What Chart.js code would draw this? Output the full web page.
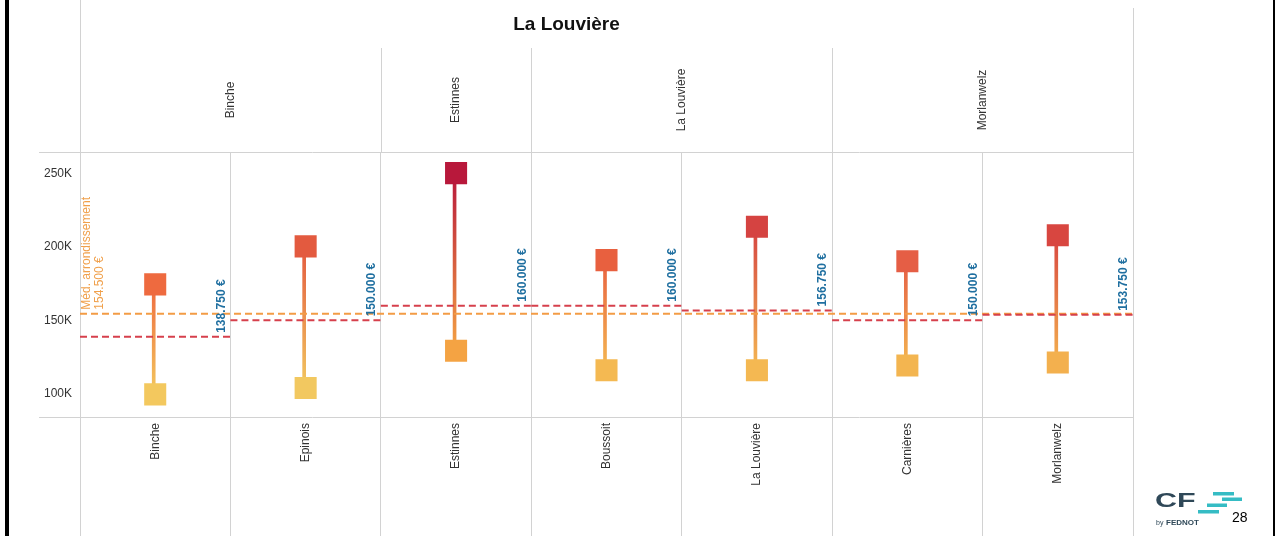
<!DOCTYPE html>
<html>
<head>
<meta charset="utf-8">
<script src="https://cdn.jsdelivr.net/npm/chart.js@4/dist/chart.umd.min.js"></script>
<style>
  html, body { margin: 0; padding: 0; background: #fff; }
  #wrap { position: relative; width: 1275px; height: 536px; }
</style>
</head>
<body>
<div id="wrap"><canvas id="myChart"></canvas></div>
<script>
const ctx = document.getElementById("myChart").getContext("2d");

// data
const communes = ["Binche", "Epinois", "Estinnes", "Boussoit", "La Louvière", "Carnières", "Morlanwelz"];
const groups = ["Binche", "Estinnes", "La Louvière", "Morlanwelz"];
const groupSpans = [2, 1, 2, 2];
const highValues = [174500, 200400, 250300, 191000, 213800, 190300, 208000];
const lowValues = [99500, 103800, 129300, 116000, 116000, 119200, 121300];
const medianValues = [138750, 150000, 160000, 160000, 156750, 150000, 153750];
const districtMedian = 154500;
const yTicks = [100000, 150000, 200000, 250000];

const highColors = ["#ee6a3f", "#e35a3f", "#b8183b", "#e8603f", "#d54341", "#e55e45", "#d84640"];
const lowColors = ["#f3c85e", "#f2c860", "#f4a343", "#f4b952", "#f4b852", "#f3b550", "#f3b04e"];

const FONT = "'Liberation Sans', Arial, sans-serif";
const GRID = "#d2d2d2";

const fmtEuro = (v) => String(v).replace(/\B(?=(\d{3})+(?!\d))/g, ".") + " €";

// dashed segment for each column (linear helper axis 0..7)
const medianSegments = [];
medianValues.forEach((v, i) => {
	medianSegments.push({ x: i, y: v }, { x: i + 1, y: v }, { x: i + 1, y: null });
});

const decorations = {
	id: "decorations",
	afterDraw(chart) {
		const c = chart.ctx;
		const area = chart.chartArea;
		const xs = chart.scales.x;
		const ys = chart.scales.y;
		const bound = (k) => xs.getPixelForValue(k - 0.5);

		c.save();
		// frame lines
		c.strokeStyle = GRID;
		c.lineWidth = 1;
		c.beginPath();
		c.moveTo(39, Math.round(area.top) + 0.5);
		c.lineTo(area.right, Math.round(area.top) + 0.5);
		c.moveTo(39, Math.round(area.bottom) + 0.5);
		c.lineTo(area.right, Math.round(area.bottom) + 0.5);
		c.moveTo(Math.round(area.left) + 0.5, 0);
		c.lineTo(Math.round(area.left) + 0.5, area.top);
		c.moveTo(Math.round(area.right) + 0.5, 8);
		c.lineTo(Math.round(area.right) + 0.5, area.top);
		let k = 0;
		groupSpans.forEach((s, gi) => {
			k += s;
			if (gi < groupSpans.length - 1) {
				const px = Math.round(bound(k)) + 0.5;
				c.moveTo(px, 48);
				c.lineTo(px, area.top);
			}
		});
		c.stroke();

		// group header labels
		c.fillStyle = "#333";
		c.font = "12px " + FONT;
		c.textAlign = "center";
		c.textBaseline = "middle";
		k = 0;
		groups.forEach((g, gi) => {
			const cx = (bound(k) + bound(k + groupSpans[gi])) / 2;
			k += groupSpans[gi];
			c.save();
			c.translate(cx, (48 + area.top) / 2);
			c.rotate(-Math.PI / 2);
			c.fillText(g, 0, 0);
			c.restore();
		});

		// value labels of the dashed lines
		c.fillStyle = "#1f6fa0";
		c.font = "bold 12px " + FONT;
		c.textAlign = "left";
		medianValues.forEach((v, i) => {
			c.save();
			c.translate(bound(i + 1) - 9, ys.getPixelForValue(v) - 4);
			c.rotate(-Math.PI / 2);
			c.fillText(fmtEuro(v), 0, 0);
			c.restore();
		});

		// district median label
		c.fillStyle = "#f0a04b";
		c.font = "12px " + FONT;
		c.save();
		c.translate(area.left, ys.getPixelForValue(districtMedian) - 4);
		c.rotate(-Math.PI / 2);
		c.fillText("Méd. arrondissement", 0, 7);
		c.fillText(fmtEuro(districtMedian), 0, 20);
		c.restore();

		// outer black borders
		c.fillStyle = "#000";
		c.fillRect(5, 0, 4, 536);
		c.fillRect(1273, 0, 2, 536);

		// CF by FEDNOT logo + page number
		c.fillStyle = "#2f4858";
		c.textAlign = "left";
		c.textBaseline = "alphabetic";
		c.save();
		c.translate(1155, 507);
		c.scale(1.45, 1);
		c.font = "bold 21px " + FONT;
		c.fillText("CF", 0, 0);
		c.restore();
		c.font = "7px " + FONT;
		c.fillText("by", 1156, 525);
		c.font = "bold 8px " + FONT;
		c.fillText("FEDNOT", 1166, 525);
		c.fillStyle = "#35bcc4";
		c.fillRect(1213, 492, 21, 3.5);
		c.fillRect(1222, 497.5, 20, 3.5);
		c.fillRect(1207, 503.5, 20, 3.5);
		c.fillRect(1198, 510, 21, 3.5);
		c.fillStyle = "#000";
		c.font = "14px " + FONT;
		c.fillText("28", 1232, 522);
		c.restore();
	}
};

const chart = new Chart(ctx, {
	data: {
		labels: communes,
		datasets: [
			{
				type: "bar",
				data: communes.map((c, i) => [lowValues[i], highValues[i]]),
				barThickness: 3,
				borderWidth: 0,
				backgroundColor: (c) => {
					const i = c.dataIndex;
					const ys = c.chart.scales.y;
					if (!ys || i === undefined) return highColors[0];
					const top = ys.getPixelForValue(highValues[i]);
					const bottom = ys.getPixelForValue(lowValues[i]);
					if (!isFinite(top) || !isFinite(bottom) || top === bottom) return highColors[i];
					const g = c.chart.ctx.createLinearGradient(0, top, 0, bottom);
					g.addColorStop(0, highColors[i]);
					g.addColorStop(1, lowColors[i]);
					return g;
				},
				order: 5
			},
			{
				type: "line",
				xAxisID: "x2",
				data: [{ x: 0, y: districtMedian }, { x: 7, y: districtMedian }],
				borderColor: "#f39c45",
				borderWidth: 2,
				borderDash: [7, 4],
				pointRadius: 0,
				order: 4
			},
			{
				type: "line",
				xAxisID: "x2",
				data: medianSegments,
				borderColor: "#d6404c",
				borderWidth: 2,
				borderDash: [7, 4],
				pointRadius: 0,
				spanGaps: false,
				order: 3
			},
			{
				type: "line",
				data: highValues,
				showLine: false,
				pointStyle: "rect",
				pointRadius: 15.6,
				pointHoverRadius: 15.6,
				pointBorderWidth: 0,
				pointBackgroundColor: highColors,
				pointBorderColor: highColors,
				order: 1
			},
			{
				type: "line",
				data: lowValues,
				showLine: false,
				pointStyle: "rect",
				pointRadius: 15.6,
				pointHoverRadius: 15.6,
				pointBorderWidth: 0,
				pointBackgroundColor: lowColors,
				pointBorderColor: lowColors,
				order: 1
			}
		]
	},
	options: {
		responsive: true,
		maintainAspectRatio: false,
		animation: false,
		events: [],
		layout: { padding: { left: 0, right: 142, top: 0, bottom: 0 } },
		plugins: {
			legend: { display: false },
			tooltip: { enabled: false },
			title: {
				display: true,
				text: "La Louvière",
				color: "#111",
				font: { family: FONT, size: 19, weight: "bold" },
				padding: { top: 13, bottom: 116.2 }
			}
		},
		scales: {
			x: {
				type: "category",
				offset: true,
				grid: { offset: true, color: GRID, tickLength: 119, lineWidth: 1 },
				border: { display: false },
				ticks: {
					autoSkip: false,
					minRotation: 90,
					maxRotation: 90,
					padding: -113,
					color: "#333",
					font: { family: FONT, size: 12 }
				},
				afterFit: (scale) => { scale.height = 119; }
			},
			x2: {
				type: "linear",
				min: 0,
				max: 7,
				display: false
			},
			y: {
				min: 84100,
				max: 264700,
				grid: { display: false, drawTicks: false },
				border: { display: false },
				afterBuildTicks: (scale) => { scale.ticks = yTicks.map((v) => ({ value: v })); },
				ticks: {
					padding: 8,
					color: "#333",
					font: { family: FONT, size: 12 },
					callback: (v) => (v / 1000) + "K"
				},
				afterFit: (scale) => { scale.width = 80; }
			}
		}
	},
	plugins: [decorations]
});
</script>
</body>
</html>
